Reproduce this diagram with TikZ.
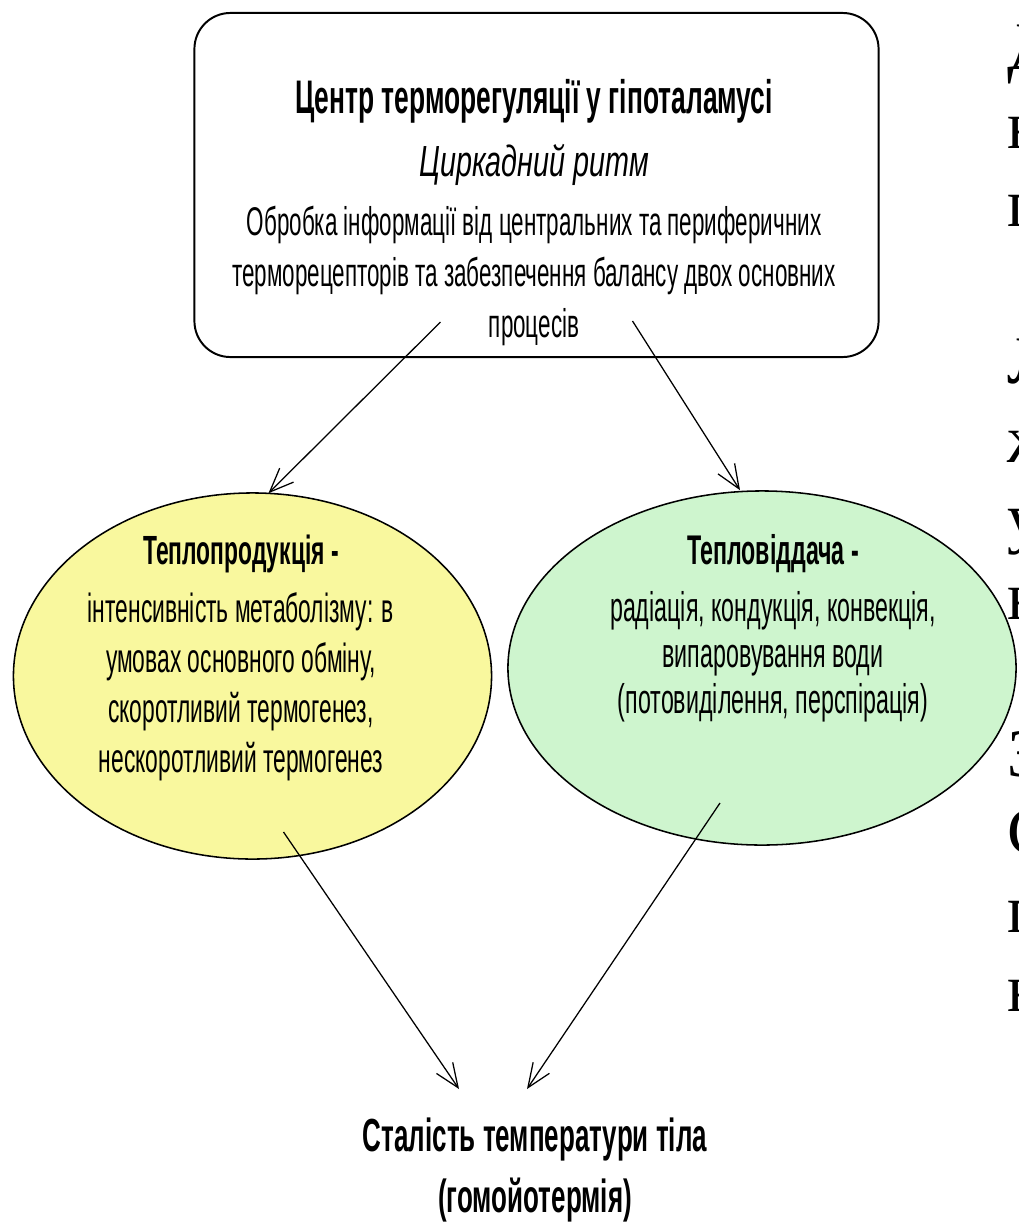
\documentclass[tikz,border=0pt]{standalone}
\usepackage{fontspec}
\setmainfont{Liberation Sans}[FakeStretch=0.56]
\newfontfamily\ritmfont{Liberation Sans}[FakeStretch=0.66]
\newfontfamily\slidefont{Liberation Serif}
\usetikzlibrary{positioning, shapes.geometric, arrows.meta, calc}

\definecolor{prodyellow}{RGB}{249,248,158}
\definecolor{lossgreen}{RGB}{206,245,206}

\begin{document}
\begin{tikzpicture}[->, >={Straight Barb[length=17pt, width=14pt]}, x=0.025cm, y=-0.025cm,
        frame/.style={draw, line width=1.4pt, rounded corners=0.9cm, minimum width=17.1cm, minimum height=8.6cm},
        oval/.style={ellipse, draw, line width=1.1pt},
        every edge/.append style={line width=0.9pt}]
        \clip (0,0) rectangle (1019,1232);
        \fill[white] (0,0) rectangle (1019,1232);

        \node (centre) [frame] at (536.5,185) {};
        \node (centreText) [align=center, font=\fontsize{28.5}{36.3}\selectfont] at (534,213)
            {{\fontsize{33.5}{36.3}\selectfont\bfseries Центр терморегуляції у гіпоталамусі}\\[8.5pt]
             {\ritmfont\itshape\fontsize{31}{36.3}\selectfont Циркадний ритм}\\[5.7pt]
             Обробка інформації від центральних та периферичних\\
             терморецепторів та забезпечення балансу двох основних\\
             процесів};

        \node (prod) [oval, fill=prodyellow, minimum width=11.95cm, minimum height=9.15cm] at (252.5,676) {};
        \node (prodText) [align=center, font=\fontsize{29}{35.6}\selectfont] at (241,658)
            {{\bfseries Теплопродукція -}\\[6pt]
             інтенсивність метаболізму: в\\
             умовах основного обміну,\\
             скоротливий термогенез,\\
             нескоротливий термогенез};

        \node (loss) [oval, fill=lossgreen, minimum width=12.7cm, minimum height=8.85cm] at (762,668) {};
        \node (lossText) [align=center, font=\fontsize{29.5}{32.7}\selectfont] at (773,628)
            {{\bfseries Тепловіддача -}\\[7.8pt]
             радіація, кондукція, конвекція,\\
             випаровування води\\
             (потовиділення, перспірація)};

        \node (result) [align=center, font=\fontsize{33}{42.7}\selectfont\bfseries] at (535,1170)
            {Сталість температури тіла\\
             (гомойотермія)};

        \node (slide) [anchor=north west, inner sep=0pt, align=left, font=\slidefont\fontsize{48.4}{55.8}\selectfont] at (1007,25)
            {Д\\н\\п\\[55.8pt]Л\\ж\\у\\н\\[55.8pt]З\\С\\п\\н};

        \path
            ($(centre.center)+(-96,137)$) edge ($(prod.north)+(16,1)$)
            ($(centre.center)+(96,136)$) edge ($(loss.north)+(-22,0)$)
            ($(prod.center)+(31,156)$) edge ($(result.center)+(-76,-81)$)
            ($(loss.center)+(-42,135)$) edge ($(result.center)+(-8,-81)$);
\end{tikzpicture}
\end{document}
